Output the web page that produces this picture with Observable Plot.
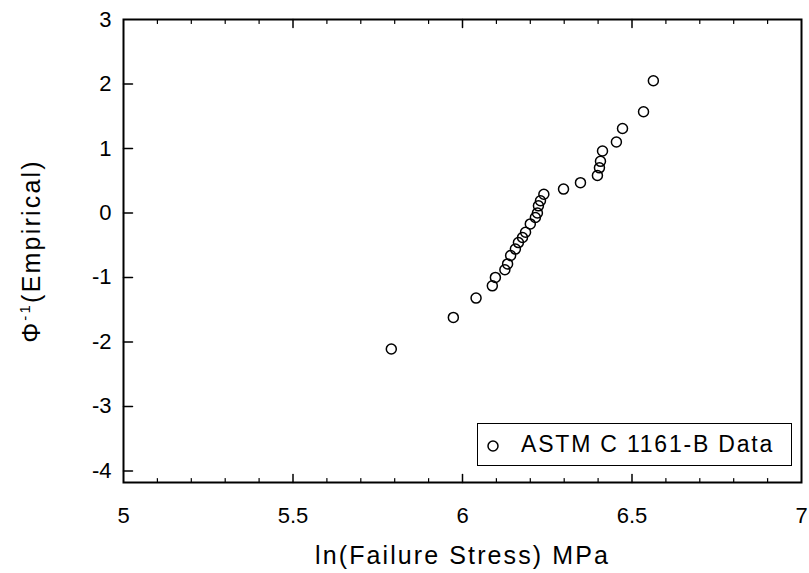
<!DOCTYPE html>
<html><head><meta charset="utf-8">
<script src="https://cdn.jsdelivr.net/npm/d3@7"></script>
<script src="https://cdn.jsdelivr.net/npm/@observablehq/plot@0.6"></script>
<style>
body{margin:0;background:#fff;}
#wrap{position:relative;width:809px;height:573px;font-family:"Liberation Sans",Arial,sans-serif;}
#legend{position:absolute;left:477px;top:423px;width:315px;height:43px;border:1.5px solid #000;box-sizing:border-box;background:#fff;font-size:23px;letter-spacing:1.8px;color:#000;}
#legend svg{position:absolute;left:5px;top:11px;}
#legend span{position:absolute;left:43px;top:7px;white-space:nowrap;}
</style></head><body><div id="wrap"></div>
<script>
// ln(Failure Stress) MPa
const lnStress = [5.79, 5.973, 6.04, 6.088, 6.097, 6.125, 6.133, 6.142, 6.156, 6.165, 6.177, 6.186, 6.20, 6.215, 6.221, 6.224, 6.23, 6.24, 6.298, 6.348, 6.398, 6.404, 6.407, 6.413, 6.454, 6.472, 6.534, 6.563];
// Phi^-1 (Empirical)
const phiInv   = [-2.11, -1.62, -1.32, -1.13, -1.0, -0.88, -0.79, -0.66, -0.56, -0.46, -0.38, -0.30, -0.17, -0.07, 0.0, 0.11, 0.19, 0.29, 0.37, 0.47, 0.58, 0.70, 0.80, 0.96, 1.10, 1.31, 1.57, 2.05];
const xMajor = [5, 5.5, 6, 6.5, 7];
const xMinor = [5.1, 5.2, 5.3, 5.4, 5.6, 5.7, 5.8, 5.9, 6.1, 6.2, 6.3, 6.4, 6.6, 6.7, 6.8, 6.9];
const yTicks = [-4, -3, -2, -1, 0, 1, 2, 3];
const seriesName = "ASTM C 1161-B Data";
const xTitle = "ln(Failure Stress) MPa";
const yTitle = "Φ-1(Empirical)";

const data = lnStress.map((x, i) => ({x, y: phiInv[i]}));
const line = {draw(c, l) { c.moveTo(0, 0); c.lineTo(0, -l); }};

const chart = Plot.plot({
  width: 809, height: 573,
  marginLeft: 123, marginRight: 8, marginTop: 19, marginBottom: 91,
  style: {fontFamily: "Liberation Sans, Arial, sans-serif", fontSize: "22px", color: "#000", background: "#fff"},
  x: {domain: [5, 7]},
  y: {domain: [-4.18, 3]},
  marks: [
    Plot.vector(xMajor.slice(1, -1), {x: d => d, frameAnchor: "bottom", length: 8, rotate: 0, anchor: "start", shape: line, stroke: "#000", strokeWidth: 1.5}),
    Plot.vector(xMinor, {x: d => d, frameAnchor: "bottom", length: 4, rotate: 0, anchor: "start", shape: line, stroke: "#000", strokeWidth: 1.2}),
    Plot.vector(xMinor, {x: d => d, frameAnchor: "top", length: 4, rotate: 180, anchor: "start", shape: line, stroke: "#000", strokeWidth: 1.2}),
    Plot.vector(xMajor.slice(1, -1), {x: d => d, frameAnchor: "top", length: 8, rotate: 180, anchor: "start", shape: line, stroke: "#000", strokeWidth: 1.5}),
    Plot.vector(yTicks.slice(0, -1), {y: d => d, frameAnchor: "left", length: 9, rotate: 90, anchor: "start", shape: line, stroke: "#000", strokeWidth: 1.5}),
    Plot.axisX({ticks: xMajor, tickSize: 0, tickPadding: 25, label: null, fontSize: 22, tickFormat: d => `${d}`}),
    Plot.axisY({ticks: yTicks, tickSize: 0, tickPadding: 12, label: null, fontSize: 22, tickFormat: d => `${d}`}),
    Plot.frame({stroke: "#000", strokeWidth: 2}),
    Plot.dot(data, {x: "x", y: "y", r: 5, stroke: "#000", strokeWidth: 1.5, fill: "none"}),
    Plot.text([xTitle], {frameAnchor: "bottom", dy: 73, fontSize: 25, lineAnchor: "middle", textAnchor: "middle"}),
    Plot.text([yTitle], {frameAnchor: "left", dx: -92, rotate: -90, fontSize: 25, lineAnchor: "middle", textAnchor: "middle"})
  ]
});

document.getElementById("wrap").appendChild(chart);
const svg = d3.select(chart);
svg.selectAll("text").filter(function() { return this.textContent === xTitle; })
  .attr("letter-spacing", "2.1px");
svg.selectAll("text").filter(function() { return this.textContent === yTitle; })
  .attr("letter-spacing", "2.2px")
  .html(`Φ<tspan dy="-10" font-size="15">-1</tspan><tspan dy="10">(Empirical)</tspan>`);

const leg = document.createElement("div");
leg.id = "legend";
leg.innerHTML = `<svg width="22" height="22"><circle cx="10" cy="11" r="5" fill="none" stroke="#000" stroke-width="1.5"/></svg><span>${seriesName}</span>`;
document.getElementById("wrap").appendChild(leg);
</script>
</body></html>
